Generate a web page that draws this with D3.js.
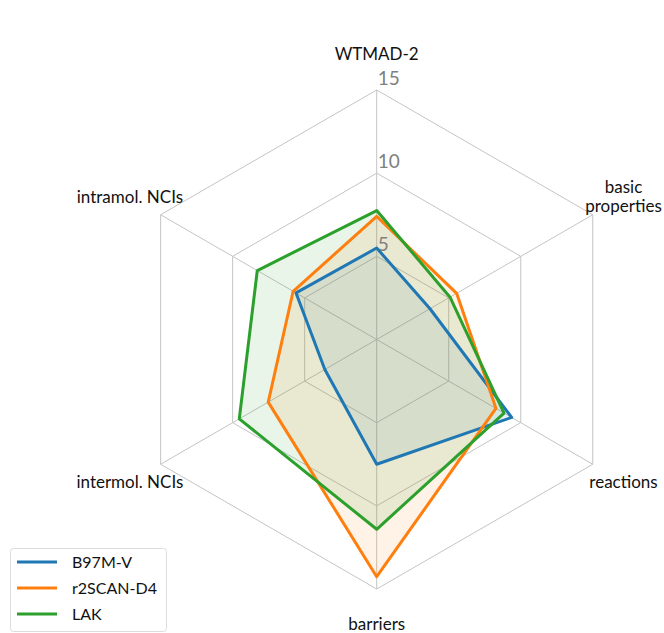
<!DOCTYPE html>
<html>
<head>
<meta charset="utf-8">
<script src="https://cdn.jsdelivr.net/npm/d3@7"></script>
<style>
  body { margin: 0; background: #fff; }
  svg text { font-family: Lato, "DejaVu Sans", sans-serif; }
</style>
</head>
<body>
<svg id="chart" width="664" height="633"></svg>
<script>
// axes, clockwise from the top
var axes = ["WTMAD-2", "basic\nproperties", "reactions", "barriers", "intermol. NCIs", "intramol. NCIs"]
var series_names = ["B97M-V", "r2SCAN-D4", "LAK"]
var b97mv = [5.5, 3.7, 9.37, 7.5, 3.6, 5.6]
var r2scan = [7.4, 5.55, 8.28, 14.26, 7.53, 5.8]
var lak = [7.75, 5.09, 8.84, 11.41, 9.54, 8.29]
var ticks = [5, 10, 15]

var colors = ["#1f77b4", "#ff7f0e", "#2ca02c"]
var all_series = [b97mv, r2scan, lak]

var cx = 376.7, cy = 339.5
var radius = 249.5

const svg = d3.select("#chart")
const g = svg.append("g").attr("transform", "translate(" + cx + "," + cy + ")")

const r = d3.scaleLinear().domain([0, 15]).range([0, radius])
// angle measured clockwise from the top
const angle = d3.scalePoint().domain(d3.range(axes.length)).range([0, 2 * Math.PI * (axes.length - 1) / axes.length])

function pt(i, v) {
    let a = angle(i)
    return [Math.sin(a) * r(v), -Math.cos(a) * r(v)]
}

// hexagon grid
ticks.forEach(function(t) {
    g.append("polygon")
        .attr("points", axes.map((d, i) => pt(i, t).join(",")).join(" "))
        .attr("fill", "none")
        .attr("stroke", "#c4c4c4")
        .attr("stroke-width", 1)
})

// spokes
g.selectAll("spokes").data(axes).join("line")
    .attr("x1", 0).attr("y1", 0)
    .attr("x2", (d, i) => pt(i, 15)[0])
    .attr("y2", (d, i) => pt(i, 15)[1])
    .attr("stroke", "#c4c4c4")
    .attr("stroke-width", 1)

// fills first, lines on top
const line = d3.line().curve(d3.curveLinearClosed)
g.selectAll("fills").data(all_series).join("path")
    .attr("d", d => line(d.map((v, i) => pt(i, v))))
    .attr("fill", (d, i) => colors[i])
    .attr("fill-opacity", 0.1)
    .attr("stroke", "none")

g.selectAll("lines").data(all_series).join("path")
    .attr("d", d => line(d.map((v, i) => pt(i, v))))
    .attr("fill", "none")
    .attr("stroke", (d, i) => colors[i])
    .attr("stroke-width", 3)
    .attr("stroke-linejoin", "round")

// radial tick labels
g.selectAll("ticklabels").data(ticks).join("text")
    .attr("x", 1)
    .attr("y", d => -r(d) - 5)
    .attr("fill", "#808080")
    .style("font-size", "19px")
    .text(d => d)

// axis labels
var label_r = 285
axes.forEach(function(name, i) {
    let a = angle(i)
    let x = Math.sin(a) * label_r, y = -Math.cos(a) * label_r
    let lines = name.split("\n")
    lines.forEach(function(l, j) {
        g.append("text")
            .attr("text-anchor", "middle")
            .style("font-size", "17px")
            .attr("fill", "#111")
            .attr("x", x)
            .attr("y", y + (j - (lines.length - 1) / 2) * 19)
            .attr("dy", "0.35em")
            .text(l)
    })
})

// legend
const legend = svg.append("g")
legend.append("rect")
    .attr("x", 10.5).attr("y", 548.5)
    .attr("width", 156).attr("height", 83)
    .attr("rx", 3)
    .attr("fill", "#fff").attr("fill-opacity", 0.8)
    .attr("stroke", "#dcdcdc")

legend.selectAll("leglines").data(series_names).join("line")
    .attr("x1", 17).attr("x2", 57)
    .attr("y1", (d, i) => 562 + i * 26)
    .attr("y2", (d, i) => 562 + i * 26)
    .attr("stroke", (d, i) => colors[i])
    .attr("stroke-width", 3)

legend.selectAll("legtext").data(series_names).join("text")
    .attr("x", 72)
    .attr("y", (d, i) => 562 + i * 26)
    .attr("dy", "0.35em")
    .style("font-size", "16px")
    .attr("fill", "#111")
    .text(d => d)
</script>
</body>
</html>
